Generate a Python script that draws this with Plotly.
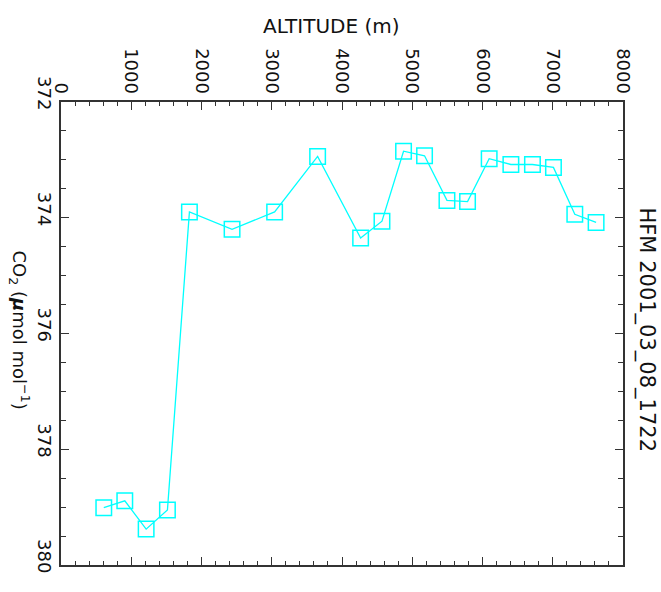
import plotly.graph_objects as go

# Aircraft profile: altitude (m) vs CO2 mole fraction (umol/mol)
altitude_m = [609, 908, 1212, 1515, 1828, 2435, 3041, 3653, 4265, 4569,
              4876, 5175, 5494, 5787, 6095, 6404, 6711, 7010, 7314, 7617]
co2_ppm = [379.01, 378.89, 379.38, 379.05, 373.90, 374.20, 373.90, 372.94,
           374.35, 374.06, 372.85, 372.93, 373.70, 373.72, 372.98, 373.08,
           373.08, 373.13, 373.94, 374.08]

alt_ticks = [0, 1000, 2000, 3000, 4000, 5000, 6000, 7000, 8000]
co2_ticks = [372, 374, 376, 378, 380]

FONT = "DejaVu Sans"
INK = "#111111"
AXIS = "#333333"

fig = go.Figure()
fig.add_trace(go.Scatter(
    x=altitude_m, y=co2_ppm, mode="lines+markers",
    line=dict(color="#00ffff", width=1.3),
    marker=dict(symbol="square-open", size=15.5, color="#00ffff",
                line=dict(color="#00ffff", width=1.5)),
    showlegend=False, cliponaxis=False,
))

fig.update_layout(
    width=661, height=592,
    margin=dict(l=61, r=38, t=102, b=27, pad=0),
    paper_bgcolor="white", plot_bgcolor="white",
    font=dict(family=FONT, size=18, color=INK),
    xaxis=dict(
        side="top", range=[0, 8000],
        tickvals=alt_ticks, ticktext=[str(v) for v in alt_ticks],
        tickangle=90, ticks="inside", ticklen=8, tickwidth=1.2, tickcolor=AXIS,
        minor=dict(dtick=200, ticks="inside", ticklen=4, tickwidth=1.2, tickcolor=AXIS),
        showline=True, linecolor=AXIS, linewidth=1.5, mirror="ticks",
        showgrid=False, zeroline=False,
        tickfont=dict(family=FONT, size=18, color=INK),
    ),
    yaxis=dict(
        range=[380, 372],
        tickvals=co2_ticks, ticktext=[str(v) for v in co2_ticks],
        tickangle=90, ticks="inside", ticklen=8, tickwidth=1.2, tickcolor=AXIS,
        ticklabelshift=6,
        minor=dict(dtick=0.5, ticks="inside", ticklen=5, tickwidth=1.2, tickcolor=AXIS),
        showline=True, linecolor=AXIS, linewidth=1.5, mirror="ticks",
        showgrid=False, zeroline=False,
        tickfont=dict(family=FONT, size=18, color=INK),
    ),
    annotations=[
        dict(text="ALTITUDE (m)", xref="paper", yref="paper",
             x=(331 - 61) / (661 - 61 - 38), y=1, yshift=76,
             showarrow=False, font=dict(family=FONT, size=20, color=INK),
             xanchor="center", yanchor="middle"),
        dict(text="CO<sub>2</sub> (<i><b>μ</b></i>mol mol<sup>−1</sup>)",
             xref="paper", yref="paper", x=0, xshift=-41, y=0.5, yshift=4,
             textangle=90, showarrow=False,
             font=dict(family=FONT, size=18, color=INK),
             xanchor="center", yanchor="middle"),
        dict(text="HFM 2001_03_08_1722", xref="paper", yref="paper",
             x=1, xshift=23, y=0.5, yshift=4, textangle=90, showarrow=False,
             font=dict(family=FONT, size=21, color=INK),
             xanchor="center", yanchor="middle"),
    ],
)

fig.write_html("out.html")
